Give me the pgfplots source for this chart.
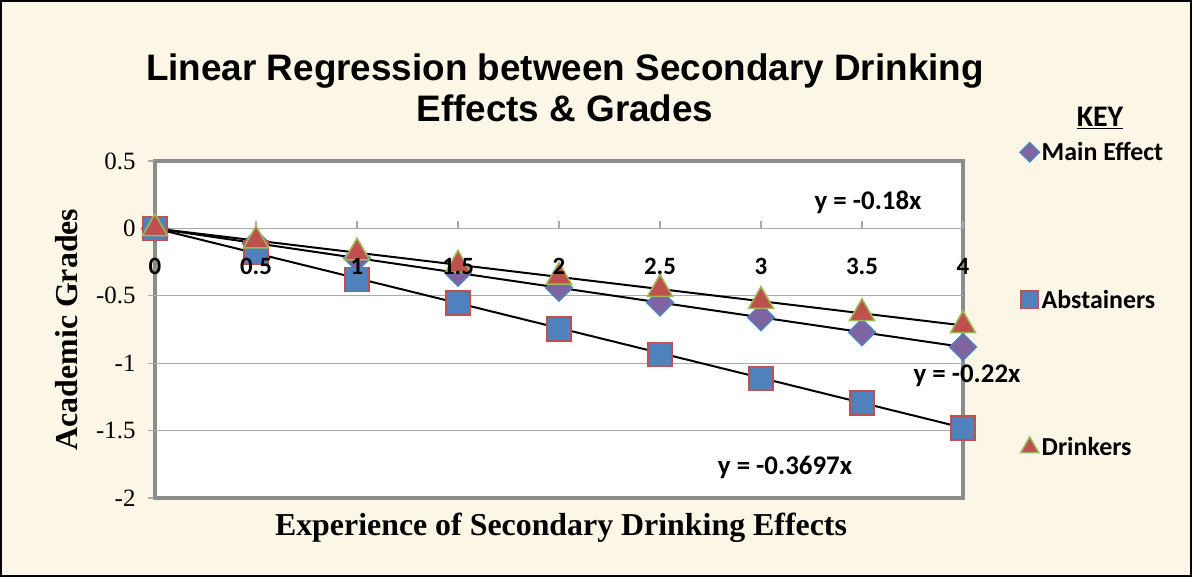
\documentclass[border=0pt]{standalone}
\usepackage{fontspec}
\setmainfont{Liberation Serif}
\newfontfamily\carlito{Carlito}
\newfontfamily\arialf{Liberation Sans}
\usepackage{pgfplots}
\pgfplotsset{compat=1.18}
\definecolor{bgcream}{RGB}{251,246,229}
\definecolor{xlblue}{RGB}{79,129,189}
\definecolor{xlred}{RGB}{192,80,77}
\definecolor{xlgreen}{RGB}{155,187,89}
\definecolor{xlpurple}{RGB}{128,100,162}
\definecolor{framegray}{RGB}{140,140,140}
\definecolor{gridgray}{RGB}{170,170,170}
\pgfplotsset{
  geom/.style={at={(155bp,79bp)}, anchor=south west, scale only axis,
    width=808bp, height=337bp, xmin=0, xmax=4, ymin=-2, ymax=0.5,
    xtick={0,0.5,1,1.5,2,2.5,3,3.5,4}, hide obscured x ticks=false,
    /pgf/number format/assume math mode=true},
}
\begin{document}
\begin{tikzpicture}
\useasboundingbox (0bp,0bp) rectangle (1192bp,577bp);
\fill[bgcream] (0bp,0bp) rectangle (1192bp,577bp);
\draw[black, line width=2bp] (1bp,1bp) rectangle (1191bp,576bp);
\node[font=\arialf\bfseries\fontsize{37}{41}\selectfont, align=center] at (565bp,489bp)
  {Linear Regression between Secondary Drinking\\Effects \& Grades};
\node[font=\carlito\bfseries\fontsize{30}{36}\selectfont] at (1100bp,459bp) {\underline{KEY}};
\begin{axis}[
  geom,
  axis x line=middle, axis y line=left,
  every inner x axis line/.append style={-},
  every outer y axis line/.append style={-},
  axis background/.style={fill=white, draw=framegray, line width=4bp},
  y axis line style={draw=framegray, line width=4bp, -},
  x axis line style={draw=gridgray, line width=1.5bp, -},
  xticklabels={},
  ytick={-2,-1.5,-1,-0.5,0,0.5},
  extra y ticks={-1.5,-1,-0.5},
  extra y tick labels={},
  extra y tick style={grid=major},
  grid style={gridgray, line width=1.3bp},
  tick style={gridgray, line width=1.3bp},
  major tick length=7bp,
  ytick align=outside, xtick align=inside,
  hide obscured y ticks=false,
  yticklabel style={font=\fontsize{25}{30}\selectfont, xshift=-9bp},
  clip=false,
  xlabel={Experience of Secondary Drinking Effects},
  ylabel={Academic Grades},
  every axis x label/.style={at={(axis description cs:0.5025,-0.089)}, anchor=center, font=\bfseries\fontsize{32}{38}\selectfont},
  every axis y label/.style={at={(axis description cs:-0.110,0.5)}, rotate=90, anchor=center, font=\bfseries\fontsize{32}{38}\selectfont},
  legend style={at={(axis description cs:1.0705,1.062)}, anchor=north west, draw=none, fill=none,
    font=\carlito\bfseries\fontsize{26}{31}\selectfont, row sep=124bp, inner sep=0pt},
  legend cell align=left,
  legend image code/.code={\path[draw=none,fill=none] (0bp,-9bp) rectangle (19bp,9bp);
    \draw[#1, every mark/.append style={scale=0.72}] plot coordinates {(9bp,0bp)};},
]
\addplot[only marks, mark=square*, mark size=9.4bp, mark options={rotate=45},
  draw=xlblue, fill=xlpurple, line width=1.5bp]
  coordinates {(0,0) (0.5,-0.11) (1,-0.22) (1.5,-0.33) (2,-0.44) (2.5,-0.55) (3,-0.66) (3.5,-0.77) (4,-0.88)};
\addlegendentry{Main Effect}
\addplot[only marks, mark=square*, mark size=12bp,
  draw=xlred, fill=xlblue, line width=1.5bp]
  coordinates {(0,0) (0.5,-0.18) (1,-0.38) (1.5,-0.555) (2,-0.745) (2.5,-0.935) (3,-1.115) (3.5,-1.295) (4,-1.48)};
\addlegendentry{Abstainers}
\addplot[only marks, mark=triangle*, mark size=14.5bp,
  draw=xlgreen, fill=xlred, line width=1.5bp]
  coordinates {(0,0) (0.5,-0.09) (1,-0.18) (1.5,-0.27) (2,-0.36) (2.5,-0.45) (3,-0.54) (3.5,-0.63) (4,-0.72)};
\addlegendentry{Drinkers}
\addplot[black, line width=2bp, no marks, forget plot] coordinates {(0,0) (4,-0.72)};
\addplot[black, line width=2bp, no marks, forget plot] coordinates {(0,0) (4,-0.88)};
\addplot[black, line width=2bp, no marks, forget plot] coordinates {(0,0) (4,-1.4788)};
\node[font=\carlito\bfseries\fontsize{27}{32}\selectfont] at (axis cs:3.53,0.193) {y = -0.18x};
\node[font=\carlito\bfseries\fontsize{27}{32}\selectfont] at (axis cs:4.02,-1.097) {y = -0.22x};
\node[font=\carlito\bfseries\fontsize{27}{32}\selectfont] at (axis cs:3.119,-1.776) {y = -0.3697x};
\end{axis}
% overlay axis: x tick labels drawn on top of the markers, as in the reference
\begin{axis}[
  geom,
  axis x line=middle, axis y line=none,
  x axis line style={draw=none, -},
  every inner x axis line/.append style={-},
  xtick style={draw=none},
  ytick=\empty,
  xticklabel style={font=\carlito\bfseries\fontsize{25}{30}\selectfont, yshift=-24bp},
  clip=false,
]
\end{axis}
\end{tikzpicture}
\end{document}
